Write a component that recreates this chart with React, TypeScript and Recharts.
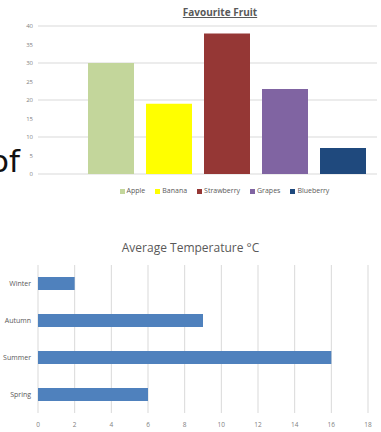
import { BarChart, Bar, XAxis, YAxis, CartesianGrid, Legend } from 'recharts';

// Favourite Fruit (one category, one series per fruit)
const fruitNames = ['Apple', 'Banana', 'Strawberry', 'Grapes', 'Blueberry'];
const fruitVotes = [30, 19, 38, 23, 7];
const fruitColors = ['#c3d69b', '#ffff00', '#953735', '#8064a2', '#1f497d'];
const fruitTicks = [0, 5, 10, 15, 20, 25, 30, 35, 40];

// Average Temperature °C
const seasons = ['Winter', 'Autumn', 'Summer', 'Spring'];
const seasonTemps = [2, 9, 16, 6];
const tempTicks = [0, 2, 4, 6, 8, 10, 12, 14, 16, 18];

const FONT = '"Open Sans", "Noto Sans", sans-serif';
const GRID = '#d9d9d9';
const TEXT = '#595959';

export default function App() {
  const fruitRow: Record<string, number | string> = { name: '' };
  fruitNames.forEach((n, i) => (fruitRow[n] = fruitVotes[i]));
  const tempData = seasons.map((s, i) => ({ season: s, temp: seasonTemps[i] }));

  return (
    <div
      style={{
        position: 'absolute',
        top: 0,
        left: 0,
        width: 381,
        height: 432,
        overflow: 'hidden',
        background: '#fff',
        fontFamily: FONT,
      }}
    >
      {/* cut-off page text on the left */}
      <div
        style={{
          position: 'absolute',
          left: -10,
          top: 143,
          fontSize: 31,
          lineHeight: '36px',
          color: '#111',
          fontFamily: '"DejaVu Sans", sans-serif',
        }}
      >
        of
      </div>

      <div
        style={{
          position: 'absolute',
          top: 5,
          left: 0,
          width: 440,
          textAlign: 'center',
          fontSize: 10,
          fontWeight: 700,
          color: TEXT,
          textDecoration: 'underline',
        }}
      >
        Favourite Fruit
      </div>

      <div style={{ position: 'absolute', top: 0, left: 0 }}>
        <BarChart
          width={381}
          height={200}
          data={[fruitRow]}
          margin={{ top: 26, right: 4, bottom: 0, left: 0 }}
          barSize={46}
          barGap={12}
        >
          <CartesianGrid vertical={false} stroke={GRID} strokeWidth={1} />
          <XAxis
            dataKey="name"
            tick={false}
            axisLine={false}
            tickLine={false}
            height={17}
            padding={{ left: 39, right: 0 }}
          />
          <YAxis
            domain={[0, 40]}
            ticks={fruitTicks}
            width={38}
            axisLine={false}
            tickLine={false}
            tickSize={0}
            tickMargin={5}
            tick={{ fontSize: 6, fill: '#7f7f7f', fontFamily: FONT }}
          />
          <Legend
            verticalAlign="bottom"
            iconType="square"
            iconSize={5}
            itemSorter={(item: any) => fruitNames.indexOf(item.value)}
            wrapperStyle={{ fontSize: 7, color: TEXT, left: 47, width: 365, bottom: 5 }}
            formatter={(v) => <span style={{ color: TEXT, marginLeft: -2 }}>{v}</span>}
          />
          {fruitNames.map((n, i) => (
            <Bar key={n} dataKey={n} fill={fruitColors[i]} isAnimationActive={false} />
          ))}
        </BarChart>
      </div>

      <div
        style={{
          position: 'absolute',
          top: 239,
          left: 0,
          width: 381,
          textAlign: 'center',
          fontSize: 12,
          color: TEXT,
        }}
      >
        Average Temperature °C
      </div>

      <div style={{ position: 'absolute', top: 200, left: 0 }}>
        <BarChart
          width={381}
          height={232}
          data={tempData}
          layout="vertical"
          margin={{ top: 65, right: 13, bottom: 0, left: 0 }}
          barSize={13}
        >
          <CartesianGrid horizontal={false} stroke={GRID} strokeWidth={1} />
          <XAxis
            type="number"
            domain={[0, 18]}
            ticks={tempTicks}
            axisLine={false}
            tickLine={false}
            tickSize={0}
            tickMargin={9}
            height={19}
            tick={{ fontSize: 6.5, fill: '#7f7f7f', fontFamily: FONT }}
          />
          <YAxis
            type="category"
            dataKey="season"
            width={38}
            axisLine={false}
            tickLine={false}
            tickSize={0}
            tickMargin={7}
            tick={{ fontSize: 7, fill: TEXT, fontFamily: FONT }}
          />
          <Bar dataKey="temp" fill="#4f81bd" isAnimationActive={false} />
        </BarChart>
      </div>
    </div>
  );
}
